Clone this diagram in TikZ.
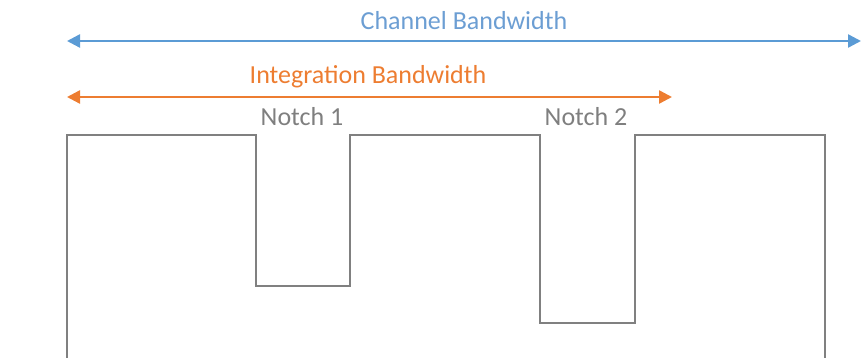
\documentclass[tikz,border=0pt]{standalone}
\usepackage{fontspec}
\setmainfont{Carlito}
\usetikzlibrary{arrows.meta}
\definecolor{chblue}{HTML}{5B9BD5}
\definecolor{chbluetext}{HTML}{6C9ED3}
\definecolor{iborange}{HTML}{ED7D31}
\definecolor{wavegray}{HTML}{808080}
\definecolor{notchgray}{HTML}{7F7F7F}
\tikzset{
  bwarrow/.style={line width=2.4pt, {Triangle[length=13pt,width=13pt]}-{Triangle[length=13pt,width=13pt]}},
  lbl/.style={inner sep=0pt, anchor=center, font=\fontsize{26}{30}\selectfont},
  wave/.style={line width=2.8pt, wavegray, line join=miter}
}
\begin{document}
\begin{tikzpicture}[x=1pt,y=-1pt]
\useasboundingbox (0,0) rectangle (862,358);
% channel bandwidth
\coordinate (cbl) at (67,41);
\coordinate (cbr) at (861,41);
\draw[bwarrow, chblue] (cbl) -- (cbr);
\node[lbl, text=chbluetext] (cbt) at (464,21) {Channel Bandwidth};
% integration bandwidth
\coordinate (ibl) at (67,97);
\coordinate (ibr) at (672,97);
\draw[bwarrow, iborange] (ibl) -- (ibr);
\node[lbl, text=iborange] (ibt) at (368,77) {Integration Bandwidth};
% notch labels
\node[lbl, text=notchgray] (n1) at (302,117) {Notch 1};
\node[lbl, text=notchgray] (n2) at (586,117) {Notch 2};
% waveform
\draw[wave] (67,360) -- (67,135) -- (256,135) -- (256,286) -- (350,286) -- (350,135)
  -- (540,135) -- (540,323) -- (635,323) -- (635,135) -- (825,135) -- (825,360);
\end{tikzpicture}
\end{document}
